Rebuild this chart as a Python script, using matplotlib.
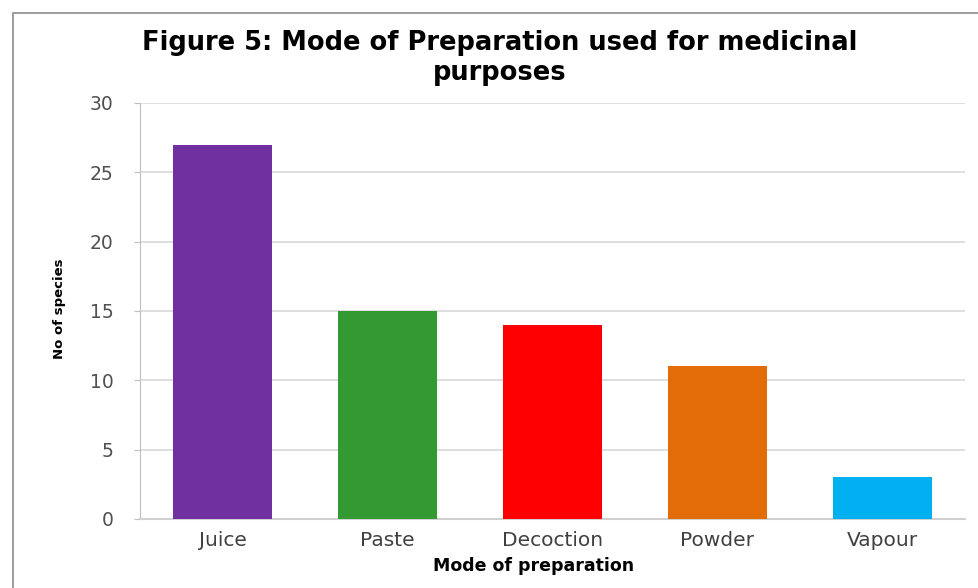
import matplotlib.pyplot as plt
from matplotlib.patches import Rectangle

plt.rcParams['font.family'] = ['DejaVu Sans']

# data
modes = ['Juice', 'Paste', 'Decoction', 'Powder', 'Vapour']
species = [27, 15, 14, 11, 3]
colors = ['#7030A0', '#339933', '#FF0000', '#E36C09', '#00B0F0']

fig = plt.figure(figsize=(9.79, 5.88), dpi=100)
ax = fig.add_axes([140 / 979, 69 / 588, 825 / 979, 416 / 588])

# outer chart frame
fig.patches.append(Rectangle((13 / 979, -0.1), 1.2, 575 / 588 + 0.1,
                             transform=fig.transFigure, fill=False,
                             edgecolor='#8C8C8C', linewidth=1.2))

ax.bar(range(len(modes)), species, width=0.6, color=colors, zorder=3)

ax.set_xlim(-0.5, len(modes) - 0.5)
ax.set_ylim(0, 30)
ax.set_yticks(range(0, 31, 5))
ax.set_xticks(range(len(modes)))
ax.set_xticklabels(modes)
ax.yaxis.grid(True, color='#D9D9D9', linewidth=1.2, zorder=0)

for side in ['top', 'right']:
    ax.spines[side].set_visible(False)
ax.spines['left'].set_color('#BFBFBF')
ax.spines['bottom'].set_color('#D0D0D0')
ax.spines['bottom'].set_linewidth(1.5)
ax.tick_params(axis='y', length=4, color='#BFBFBF', labelsize=13.5,
               labelcolor='#505050', pad=15)
ax.tick_params(axis='x', length=0, labelsize=14.5, labelcolor='#404040', pad=9)

fig.text(59 / 979, 1 - 309 / 588, 'No of species', rotation=90,
         ha='center', va='center', fontsize=9.5, fontweight='bold')
fig.text(534 / 979, 1 - 566 / 588, 'Mode of preparation', ha='center', va='center',
         fontsize=12.5, fontweight='bold')
fig.text(500 / 979, 1 - 43 / 588, 'Figure 5: Mode of Preparation used for medicinal',
         ha='center', va='center', fontsize=18.5, fontweight='bold')
fig.text(500 / 979, 1 - 73 / 588, 'purposes',
         ha='center', va='center', fontsize=18.5, fontweight='bold')

fig.savefig('out.png', dpi=100)
